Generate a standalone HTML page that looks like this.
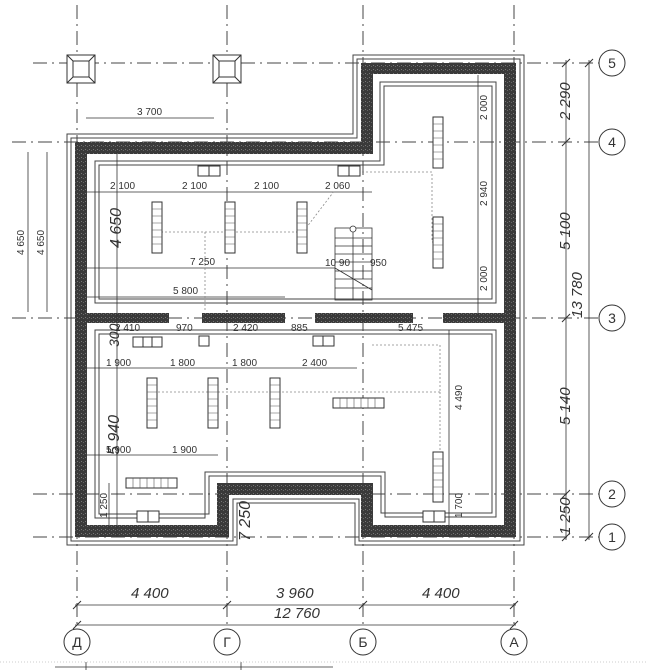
<!DOCTYPE html>
<html><head><meta charset="utf-8"><style>
html,body{margin:0;padding:0;background:#fff;width:646px;height:670px;overflow:hidden}
svg{display:block}
text{font-family:"Liberation Sans",sans-serif;fill:#333}
.d{font-size:10px}
.b{font-size:15px;font-style:italic;fill:#555}
</style></head><body>
<svg width="646" height="670" viewBox="0 0 646 670" xmlns="http://www.w3.org/2000/svg">
<defs>
<pattern id="hp" width="4" height="4" patternUnits="userSpaceOnUse">
<rect width="4" height="4" fill="#3a3a3a"/><rect x="1" y="1" width="1" height="1" fill="#777"/><rect x="3" y="2" width="1" height="1" fill="#666"/>
</pattern>
</defs>
<!-- grid lines -->
<g stroke="#444" stroke-width="1" stroke-dasharray="14,5,2,5" fill="none">
<line x1="77" y1="5" x2="77" y2="630"/>
<line x1="227" y1="5" x2="227" y2="630"/>
<line x1="363" y1="5" x2="363" y2="630"/>
<line x1="514" y1="5" x2="514" y2="630"/>
<line x1="33" y1="63" x2="599" y2="63"/>
<line x1="12" y1="142" x2="599" y2="142"/>
<line x1="12" y1="318" x2="599" y2="318"/>
<line x1="33" y1="494" x2="599" y2="494"/>
<line x1="33" y1="537" x2="599" y2="537"/>
</g>
<!-- piers -->
<g stroke="#333" fill="#fff" stroke-width="1">
<rect x="67" y="55" width="28" height="28"/><rect x="73" y="61" width="16" height="16"/>
<path d="M67 55L73 61M95 55L89 61M67 83L73 77M95 83L89 77"/>
<rect x="213" y="55" width="28" height="28"/><rect x="219" y="61" width="16" height="16"/>
<path d="M213 55L219 61M241 55L235 61M213 83L219 77M241 83L235 77"/>
</g>
<!-- outer thin lines -->
<g stroke="#444" fill="none" stroke-width="1">
<path d="M67 134H353V55H524V545H355V503H237V545H67Z"/>
<path d="M71 138H357V59H520V541H359V499H233V541H71Z"/>
<!-- inner room lines -->
<path d="M95 161H380V82H496V303H95Z"/>
<path d="M99 165H384V86H492V299H99Z"/>
<path d="M95 330H496V517H385V472H205V518H95Z"/>
<path d="M99 334H492V513H381V476H209V514H99Z"/>
</g>
<!-- walls -->
<g fill="url(#hp)">
<rect x="75" y="142" width="298" height="12"/>
<rect x="361" y="63" width="155" height="11"/>
<rect x="361" y="63" width="12" height="91"/>
<rect x="504" y="63" width="12" height="474"/>
<rect x="75" y="142" width="12" height="395"/>
<rect x="75" y="525" width="154" height="12"/>
<rect x="217" y="483" width="12" height="54"/>
<rect x="217" y="483" width="156" height="12"/>
<rect x="361" y="483" width="12" height="54"/>
<rect x="361" y="525" width="155" height="12"/>
<rect x="83" y="313" width="86" height="10"/>
<rect x="202" y="313" width="83" height="10"/>
<rect x="315" y="313" width="98" height="10"/>
<rect x="443" y="313" width="61" height="10"/>
</g>
<!-- dimension lines -->
<g stroke="#333" stroke-width="0.8" fill="none">
<line x1="86" y1="118" x2="214" y2="118"/>
<line x1="28" y1="152" x2="28" y2="312"/><line x1="47" y1="152" x2="47" y2="312"/>
<line x1="117" y1="152" x2="117" y2="537"/>
<line x1="87" y1="192" x2="372" y2="192"/>
<line x1="87" y1="268" x2="335" y2="268"/>
<line x1="87" y1="297" x2="285" y2="297"/>
<line x1="478" y1="75" x2="478" y2="315"/>
<line x1="87" y1="368" x2="357" y2="368"/>
<line x1="87" y1="455" x2="218" y2="455"/>
<line x1="449" y1="330" x2="449" y2="537"/>
<line x1="109" y1="483" x2="109" y2="530"/>
<line x1="75" y1="605" x2="516" y2="605"/><line x1="75" y1="625" x2="516" y2="625"/>
<line x1="566" y1="60" x2="566" y2="540"/><line x1="589" y1="60" x2="589" y2="540"/>
<line x1="55" y1="667" x2="333" y2="667"/><line x1="86" y1="662" x2="86" y2="670"/><line x1="241" y1="662" x2="241" y2="670"/>
</g>
<g stroke="#333" stroke-width="1">
<path d="M73 609L81 601M223 609L231 601M359 609L367 601M510 609L518 601M73 629L81 621M510 629L518 621"/>
<path d="M562 67L570 59M562 146L570 138M562 322L570 314M562 498L570 490M562 541L570 533M585 67L593 59M585 541L593 533"/>
</g>
<line x1="0" y1="662" x2="646" y2="662" stroke="#ccc" stroke-dasharray="1,2"/>
<!-- dotted connectors -->
<g stroke="#888" stroke-width="0.8" stroke-dasharray="2,2" fill="none">
<path d="M157 232H230M205 232V310M232 232L303 232L335 190M350 172H432V242H440M432 142"/>
<path d="M150 392H440M440 345V392M372 345H440M440 392V455"/>
</g>
<!-- radiators -->
<g stroke="#333" fill="#fff" stroke-width="1">
<rect x="152" y="202" width="10" height="51"/><rect x="225" y="202" width="10" height="51"/><rect x="297" y="202" width="10" height="51"/>
<rect x="433" y="117" width="10" height="51"/><rect x="433" y="217" width="10" height="51"/>
<rect x="147" y="378" width="10" height="50"/><rect x="208" y="378" width="10" height="50"/><rect x="270" y="378" width="10" height="50"/>
<rect x="433" y="452" width="10" height="50"/>
<rect x="333" y="398" width="51" height="10"/><rect x="126" y="478" width="51" height="10"/>
</g>
<g stroke="#555" stroke-width="0.6">
<path d="M152 209h10M152 216h10M152 223h10M152 230h10M152 237h10M152 244h10M225 209h10M225 216h10M225 223h10M225 230h10M225 237h10M225 244h10M297 209h10M297 216h10M297 223h10M297 230h10M297 237h10M297 244h10"/>
<path d="M433 124h10M433 131h10M433 138h10M433 145h10M433 152h10M433 159h10M433 224h10M433 231h10M433 238h10M433 245h10M433 252h10M433 259h10M433 459h10M433 466h10M433 473h10M433 480h10M433 487h10M433 494h10"/>
<path d="M147 385h10M147 392h10M147 399h10M147 406h10M147 413h10M147 420h10M208 385h10M208 392h10M208 399h10M208 406h10M208 413h10M208 420h10M270 385h10M270 392h10M270 399h10M270 406h10M270 413h10M270 420h10"/>
<path d="M340 398v10M347 398v10M354 398v10M361 398v10M368 398v10M375 398v10M133 478v10M140 478v10M147 478v10M154 478v10M161 478v10M168 478v10"/>
</g>
<!-- fixtures -->
<g stroke="#333" fill="#fff" stroke-width="1">
<rect x="198" y="166" width="22" height="10"/><line x1="209" y1="166" x2="209" y2="176"/>
<rect x="338" y="166" width="22" height="10"/><line x1="349" y1="166" x2="349" y2="176"/>
<rect x="133" y="337" width="29" height="10"/><line x1="143" y1="337" x2="143" y2="347"/><line x1="152" y1="337" x2="152" y2="347"/>
<rect x="199" y="336" width="10" height="10"/>
<rect x="313" y="336" width="21" height="10"/><line x1="323" y1="336" x2="323" y2="346"/>
<rect x="137" y="511" width="22" height="11"/><line x1="148" y1="511" x2="148" y2="522"/>
<rect x="423" y="511" width="22" height="11"/><line x1="434" y1="511" x2="434" y2="522"/>
</g>
<!-- stair -->
<g stroke="#333" fill="none" stroke-width="0.8">
<rect x="335" y="228" width="37" height="72"/>
<path d="M335 238h37M335 246h37M335 254h37M335 262h37M335 271h37M335 279h37M335 288h37M353 228v72M335 268L372 290"/>
<circle cx="353" cy="229" r="3" fill="#fff"/>
</g>
<!-- labels -->
<g class="d">
<text x="137" y="115">3 700</text>
<text x="110" y="189">2 100</text><text x="182" y="189">2 100</text><text x="254" y="189">2 100</text><text x="325" y="189">2 060</text>
<text x="190" y="265">7 250</text><text x="325" y="266">10 90</text><text x="370" y="266">950</text>
<text x="173" y="294">5 800</text>
<text x="115" y="331">2 410</text><text x="176" y="331">970</text><text x="233" y="331">2 420</text><text x="291" y="331">885</text><text x="398" y="331">5 475</text>
<text x="106" y="366">1 900</text><text x="170" y="366">1 800</text><text x="232" y="366">1 800</text><text x="302" y="366">2 400</text>
<text x="106" y="453">5 900</text><text x="172" y="453">1 900</text>
<text transform="translate(24,255) rotate(-90)">4 650</text>
<text transform="translate(44,255) rotate(-90)">4 650</text>
<text transform="translate(487,120) rotate(-90)">2 000</text>
<text transform="translate(487,206) rotate(-90)">2 940</text>
<text transform="translate(487,291) rotate(-90)">2 000</text>
<text transform="translate(462,410) rotate(-90)">4 490</text>
<text transform="translate(462,518) rotate(-90)">1 700</text>
<text transform="translate(107,518) rotate(-90)">1 250</text>
</g>
<g class="b">
<text transform="translate(121,248) rotate(-90)" font-size="16">4 650</text>
<text transform="translate(119,347) rotate(-90)" font-size="14">300</text>
<text transform="translate(119,455) rotate(-90)" font-size="16">5 940</text>
<text transform="translate(250,541) rotate(-90)" font-size="16">7 250</text>
<text x="131" y="598">4 400</text><text x="276" y="598">3 960</text><text x="422" y="598">4 400</text>
<text x="274" y="618">12 760</text>
<text transform="translate(570,120) rotate(-90)">2 290</text>
<text transform="translate(570,250) rotate(-90)">5 100</text>
<text transform="translate(582,318) rotate(-90)">13 780</text>
<text transform="translate(570,425) rotate(-90)">5 140</text>
<text transform="translate(570,535) rotate(-90)">1 250</text>
</g>
<!-- bubbles -->
<g stroke="#333" fill="#fff" stroke-width="1">
<circle cx="612" cy="63" r="13"/><circle cx="612" cy="142" r="13"/><circle cx="612" cy="318" r="13"/><circle cx="612" cy="494" r="13"/><circle cx="612" cy="537" r="13"/>
<circle cx="77" cy="642" r="13"/><circle cx="227" cy="642" r="13"/><circle cx="363" cy="642" r="13"/><circle cx="514" cy="642" r="13"/>
</g>
<g font-size="14" text-anchor="middle">
<text x="612" y="68">5</text><text x="612" y="147">4</text><text x="612" y="323">3</text><text x="612" y="499">2</text><text x="612" y="542">1</text>
<text x="77" y="647">Д</text><text x="227" y="647">Г</text><text x="363" y="647">Б</text><text x="514" y="647">А</text>
</g>
</svg>
</body></html>
